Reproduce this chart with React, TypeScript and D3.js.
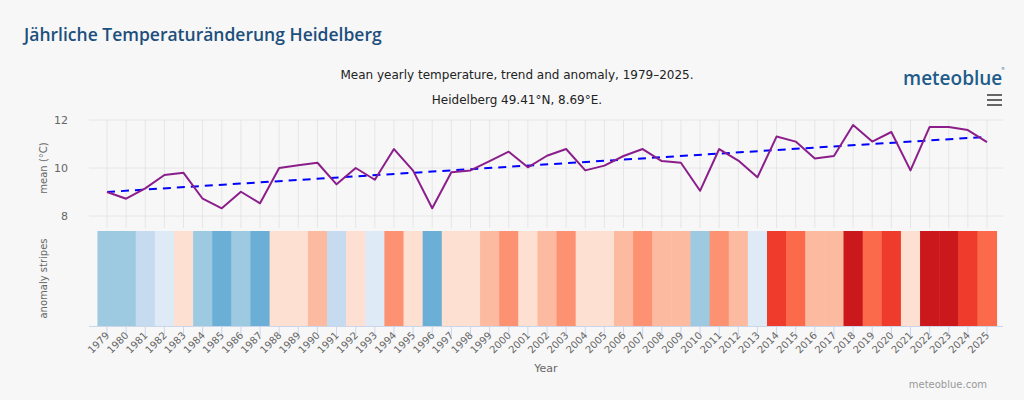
import React from "react";
import * as d3 from "d3";

const years: number[] = d3.range(1979, 2026);
const meanTemp: number[] = [
  9.0, 8.72, 9.15, 9.71, 9.8, 8.72, 8.32, 9.01, 8.53, 10.0,
  10.11, 10.22, 9.32, 10.0, 9.51, 10.79, 9.89, 8.32, 9.82, 9.9,
  10.29, 10.68, 10.03, 10.51, 10.79, 9.9, 10.1, 10.5, 10.79, 10.29,
  10.22, 9.05, 10.79, 10.31, 9.61, 11.31, 11.1, 10.4, 10.5, 11.79,
  11.1, 11.5, 9.9, 11.71, 11.71, 11.58, 11.08,
];
const trendStart = 9.0;
const trendEnd = 11.3;
const yTicks = [8, 10, 12];
const stripeThresholds = [8.6, 9.07, 9.48, 9.76, 10.17, 10.58, 10.98, 11.22, 11.65];
const stripeColors = [
  "#6baed6", "#9ecae1", "#c6dbef", "#deebf7", "#fee0d2",
  "#fcbba1", "#fc9272", "#fb6a4a", "#ef3b2c", "#cb181d",
];

const W = 1024;
const H = 400;
const plotLeft = 89;
const plotRight = 1003;
const topY = 120;
const topBottom = 228;
const stripeTop = 231;
const stripeBottom = 326;

export default function App() {
  const x = d3.scaleLinear().domain([1979, 2025]).range([107, 987]);
  const step = x(1980) - x(1979);
  const y = d3.scaleLinear().domain([7.5, 12]).range([topBottom, topY]);
  const color = d3.scaleThreshold<number, string>().domain(stripeThresholds).range(stripeColors);
  const line = d3
    .line<number>()
    .x((_, i) => x(years[i]))
    .y((d) => y(d));
  const font = "'DejaVu Sans', sans-serif";
  return (
    <div style={{ position: "fixed", left: 0, top: 0, width: W, height: H }}>
      <svg width={W} height={H} style={{ display: "block", background: "#f7f7f7" }}>
        <text x={24} y={41} fontFamily="'Open Sans', sans-serif" fontWeight={600} fontSize={17.5} fill="#1d4f7c">
          Jährliche Temperaturänderung Heidelberg
        </text>
        <text x={517} y={79} textAnchor="middle" fontFamily={font} fontSize={12} fill="#222">
          Mean yearly temperature, trend and anomaly, 1979–2025.
        </text>
        <text x={517} y={104} textAnchor="middle" fontFamily={font} fontSize={12} fill="#222">
          Heidelberg 49.41°N, 8.69°E.
        </text>
        <text x={903} y={85} fontFamily="'Open Sans', sans-serif" fontWeight={600} fontSize={19} fill="#1f5c8a">
          meteoblue
        </text>
        <text x={1001} y={70} fontFamily={font} fontSize={4} fill="#1f5c8a">®</text>
        {[95, 100, 105].map((yy) => (
          <line key={yy} x1={987} x2={1002} y1={yy} y2={yy} stroke="#666" strokeWidth={2} />
        ))}
        {years.map((yr) => (
          <line key={"vg" + yr} x1={x(yr)} x2={x(yr)} y1={topY} y2={topBottom} stroke="#e6e6e6" strokeWidth={1} />
        ))}
        {yTicks.map((t) => (
          <g key={"yt" + t}>
            <line x1={plotLeft} x2={plotRight} y1={y(t)} y2={y(t)} stroke="#e6e6e6" strokeWidth={1} />
            <text x={68} y={y(t) + 4} textAnchor="end" fontFamily={font} fontSize={11} fill="#666">
              {t}
            </text>
          </g>
        ))}
        <text
          transform={`translate(47,${(topY + topBottom) / 2 - 6}) rotate(-90)`}
          textAnchor="middle"
          fontFamily={font}
          fontSize={10}
          fill="#666"
        >
          mean (°C)
        </text>
        <text
          transform={`translate(47,${(stripeTop + stripeBottom) / 2}) rotate(-90)`}
          textAnchor="middle"
          fontFamily={font}
          fontSize={10}
          fill="#666"
        >
          anomaly stripes
        </text>
        <line
          x1={x(1979)}
          x2={x(2025)}
          y1={y(trendStart)}
          y2={y(trendEnd)}
          stroke="#0000ff"
          strokeWidth={2}
          strokeDasharray="8,6"
        />
        <path d={line(meanTemp) || ""} fill="none" stroke="#8b1e8b" strokeWidth={2} strokeLinejoin="round" />
        {years.map((yr, i) => (
          <rect
            key={"s" + yr}
            x={x(yr) - step / 2}
            y={stripeTop}
            width={step + 0.5}
            height={stripeBottom - stripeTop}
            fill={color(meanTemp[i])}
          />
        ))}
        <line x1={plotLeft} x2={plotRight} y1={stripeBottom + 0.5} y2={stripeBottom + 0.5} stroke="#ccd6eb" strokeWidth={1} />
        {years.map((yr) => (
          <g key={"xt" + yr}>
            <line x1={x(yr)} x2={x(yr)} y1={stripeBottom} y2={stripeBottom + 10} stroke="#ccd6eb" strokeWidth={1} />
            <text
              transform={`translate(${x(yr) + 3},${stripeBottom + 10}) rotate(-45)`}
              textAnchor="end"
              fontFamily={font}
              fontSize={10}
              fill="#666"
            >
              {yr}
            </text>
          </g>
        ))}
        <text x={(plotLeft + plotRight) / 2} y={372} textAnchor="middle" fontFamily={font} fontSize={11} fill="#666">
          Year
        </text>
        <text x={987} y={388} textAnchor="end" fontFamily={font} fontSize={10} fill="#999">
          meteoblue.com
        </text>
      </svg>
    </div>
  );
}
